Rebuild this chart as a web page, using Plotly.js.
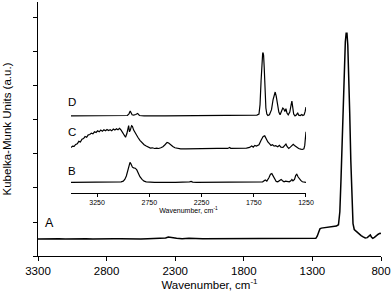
<!DOCTYPE html>
<html>
<head>
<meta charset="utf-8">
<script src="https://cdn.plot.ly/plotly-3.0.1.min.js"></script>
<style>html,body{margin:0;padding:0;background:#fff;}#chart{width:392px;height:292px;}</style>
</head>
<body>
<div id="chart"></div>
<script>
// Main spectrum A (wavenumber, Kubelka-Munk units)
const aWn = [3300,3250,3200,3150,3100,3050,3000,2950,2900,2850,2800,2750,2700,2650,2600,2550,2500,2450,2400,2370,2350,2330,2310,2290,2250,2200,2100,2000,1900,1800,1700,1600,1500,1400,1300,1275,1265,1255,1245,1235,1210,1180,1150,1125,1110,1100,1092,1084,1076,1068,1060,1054,1048,1042,1035,1028,1020,1012,1004,995,985,975,960,945,930,915,900,885,878,870,860,848,835,820,807,800];
const aVal = [0.50,0.51,0.50,0.51,0.50,0.51,0.50,0.51,0.50,0.51,0.50,0.51,0.51,0.50,0.51,0.50,0.51,0.51,0.52,0.53,0.56,0.54,0.53,0.52,0.51,0.52,0.51,0.51,0.50,0.51,0.50,0.50,0.51,0.50,0.51,0.52,0.58,0.72,0.80,0.82,0.83,0.84,0.86,0.88,0.92,1.30,2.20,3.40,4.60,5.60,6.30,6.55,6.55,6.20,5.40,4.20,2.80,1.60,0.95,0.78,0.74,0.70,0.65,0.60,0.56,0.53,0.54,0.60,0.62,0.56,0.52,0.55,0.60,0.64,0.67,0.66];

// Inset spectra (wavenumber, offset K-M units)
const dWn = [3500,3400,3300,3200,3100,3000,2960,2945,2933,2915,2900,2880,2862,2845,2800,2600,2400,2200,2000,1800,1740,1720,1700,1690,1680,1672,1665,1661,1656,1650,1642,1634,1625,1615,1600,1580,1565,1552,1545,1535,1522,1510,1498,1485,1472,1462,1452,1442,1432,1420,1405,1392,1385,1378,1368,1355,1340,1330,1320,1305,1290,1280,1268,1258,1250];
const dVal = [2.27,2.27,2.28,2.27,2.27,2.28,2.28,2.33,2.41,2.30,2.29,2.31,2.34,2.28,2.27,2.27,2.27,2.27,2.27,2.27,2.28,2.29,2.32,2.60,3.30,3.90,4.10,4.13,4.05,3.70,3.00,2.50,2.32,2.28,2.30,2.45,2.75,2.95,2.97,2.85,2.60,2.38,2.30,2.40,2.50,2.47,2.40,2.48,2.35,2.30,2.38,2.60,2.70,2.55,2.32,2.27,2.30,2.36,2.29,2.28,2.31,2.28,2.30,2.40,2.53];

const cWn = [3500,3485,3470,3455,3440,3425,3410,3395,3380,3365,3350,3335,3320,3305,3290,3275,3260,3245,3230,3215,3200,3185,3170,3155,3140,3125,3110,3095,3080,3065,3050,3035,3020,3005,2990,2978,2965,2955,2948,2940,2932,2920,2912,2900,2880,2860,2840,2820,2800,2780,2760,2740,2720,2700,2680,2660,2640,2620,2600,2580,2565,2545,2525,2505,2480,2450,2400,2300,2200,2100,2000,1980,1970,1900,1820,1790,1770,1755,1740,1725,1700,1680,1660,1645,1630,1615,1600,1585,1570,1555,1540,1520,1505,1490,1470,1455,1442,1430,1415,1400,1385,1372,1360,1340,1320,1300,1285,1270,1262,1256,1252,1250];
const cVal = [1.34,1.38,1.37,1.43,1.45,1.52,1.50,1.58,1.60,1.66,1.64,1.71,1.72,1.76,1.74,1.80,1.78,1.83,1.80,1.85,1.82,1.86,1.83,1.87,1.84,1.86,1.83,1.88,1.85,1.89,1.86,1.90,1.85,1.78,1.72,1.64,1.75,1.95,1.98,1.80,1.85,1.98,1.96,1.85,1.72,1.64,1.55,1.47,1.42,1.38,1.34,1.32,1.33,1.31,1.32,1.31,1.33,1.36,1.42,1.49,1.47,1.41,1.37,1.33,1.31,1.30,1.30,1.31,1.30,1.31,1.31,1.34,1.31,1.31,1.32,1.34,1.38,1.35,1.40,1.38,1.42,1.55,1.66,1.68,1.58,1.50,1.45,1.40,1.42,1.38,1.39,1.36,1.40,1.35,1.34,1.40,1.44,1.36,1.31,1.35,1.40,1.43,1.40,1.35,1.31,1.29,1.28,1.30,1.40,1.60,1.78,1.80];

const bWn = [3500,3300,3100,3050,3020,3000,2985,2970,2955,2945,2935,2925,2912,2900,2885,2870,2855,2840,2820,2800,2780,2757,2700,2500,2380,2365,2350,2335,2300,2000,1800,1700,1665,1640,1625,1605,1590,1577,1565,1550,1535,1520,1500,1488,1475,1460,1445,1430,1410,1395,1385,1375,1360,1348,1338,1325,1312,1300,1285,1270,1250];
const bVal = [0.31,0.31,0.31,0.32,0.33,0.35,0.40,0.50,0.65,0.78,0.90,0.85,0.76,0.74,0.73,0.68,0.58,0.48,0.40,0.35,0.33,0.32,0.31,0.31,0.31,0.33,0.34,0.32,0.31,0.31,0.31,0.31,0.33,0.38,0.35,0.45,0.55,0.57,0.50,0.40,0.34,0.33,0.36,0.40,0.36,0.33,0.35,0.34,0.33,0.36,0.40,0.36,0.40,0.52,0.55,0.47,0.40,0.37,0.33,0.32,0.31];

const mainTicks = [3300,2800,2300,1800,1300,800];
const insetTicks = [3250,2750,2250,1750,1250];
const labels = ['A','B','C','D'];

const lineStyle = {color:'#000', width:1.5};
const insetLine = {color:'#000', width:1.2};

const traces = [
  {x:aWn, y:aVal, type:'scatter', mode:'lines', line:lineStyle, xaxis:'x', yaxis:'y', hoverinfo:'skip'},
  {x:dWn, y:dVal, type:'scatter', mode:'lines', line:insetLine, xaxis:'x2', yaxis:'y2', hoverinfo:'skip'},
  {x:cWn, y:cVal, type:'scatter', mode:'lines', line:insetLine, xaxis:'x2', yaxis:'y2', hoverinfo:'skip'},
  {x:bWn, y:bVal, type:'scatter', mode:'lines', line:insetLine, xaxis:'x2', yaxis:'y2', hoverinfo:'skip'}
];

const layout = {
  width:392, height:292,
  margin:{l:38, r:11, t:2, b:36},
  paper_bgcolor:'#fff', plot_bgcolor:'#fff',
  showlegend:false,
  font:{family:'Arial, Liberation Sans, sans-serif', color:'#000'},
  xaxis:{
    range:[3300,800], tickvals:mainTicks, ticktext:mainTicks.map(String),
    showline:true, linecolor:'#000', linewidth:1, ticks:'outside', ticklen:4, tickcolor:'#000',
    showgrid:false, zeroline:false, tickfont:{size:11.5, color:'#000'},
    title:{text:'Wavenumber, cm<sup>-1</sup>', font:{size:11.5, color:'#000'}, standoff:3}
  },
  yaxis:{
    range:[0,7.47], dtick:1, tick0:0, showticklabels:false,
    showline:true, linecolor:'#000', linewidth:1, ticks:'outside', ticklen:4, tickcolor:'#000',
    showgrid:false, zeroline:false,
    title:{text:'Kubelka-Munk Units (a.u.)', font:{size:11.5, color:'#000'}, standoff:18}
  },
  xaxis2:{
    domain:[0.0962,0.7813], anchor:'y2', range:[3500,1250], tickvals:insetTicks, ticktext:insetTicks.map(String),
    showline:true, linecolor:'#000', linewidth:1, ticks:'outside', ticklen:3, tickcolor:'#000',
    showgrid:false, zeroline:false, tickfont:{size:7, color:'#000'},
    title:{text:'Wavenumber, cm<sup>-1</sup>', font:{size:7, color:'#000'}, standoff:2}
  },
  yaxis2:{
    domain:[0.248,1], anchor:'x2', range:[0,5.618], visible:false, showgrid:false, zeroline:false
  },
  annotations:[
    {text:labels[0], x:3213, y:0.97, xref:'x', yref:'y', showarrow:false, font:{size:12.5, color:'#000'}},
    {text:labels[1], x:3495, y:0.64, xref:'x2', yref:'y2', showarrow:false, font:{size:11.5, color:'#000'}},
    {text:labels[2], x:3495, y:1.79, xref:'x2', yref:'y2', showarrow:false, font:{size:11.5, color:'#000'}},
    {text:labels[3], x:3495, y:2.68, xref:'x2', yref:'y2', showarrow:false, font:{size:11.5, color:'#000'}}
  ]
};

Plotly.newPlot('chart', traces, layout, {staticPlot:true, displayModeBar:false});
</script>
</body>
</html>
